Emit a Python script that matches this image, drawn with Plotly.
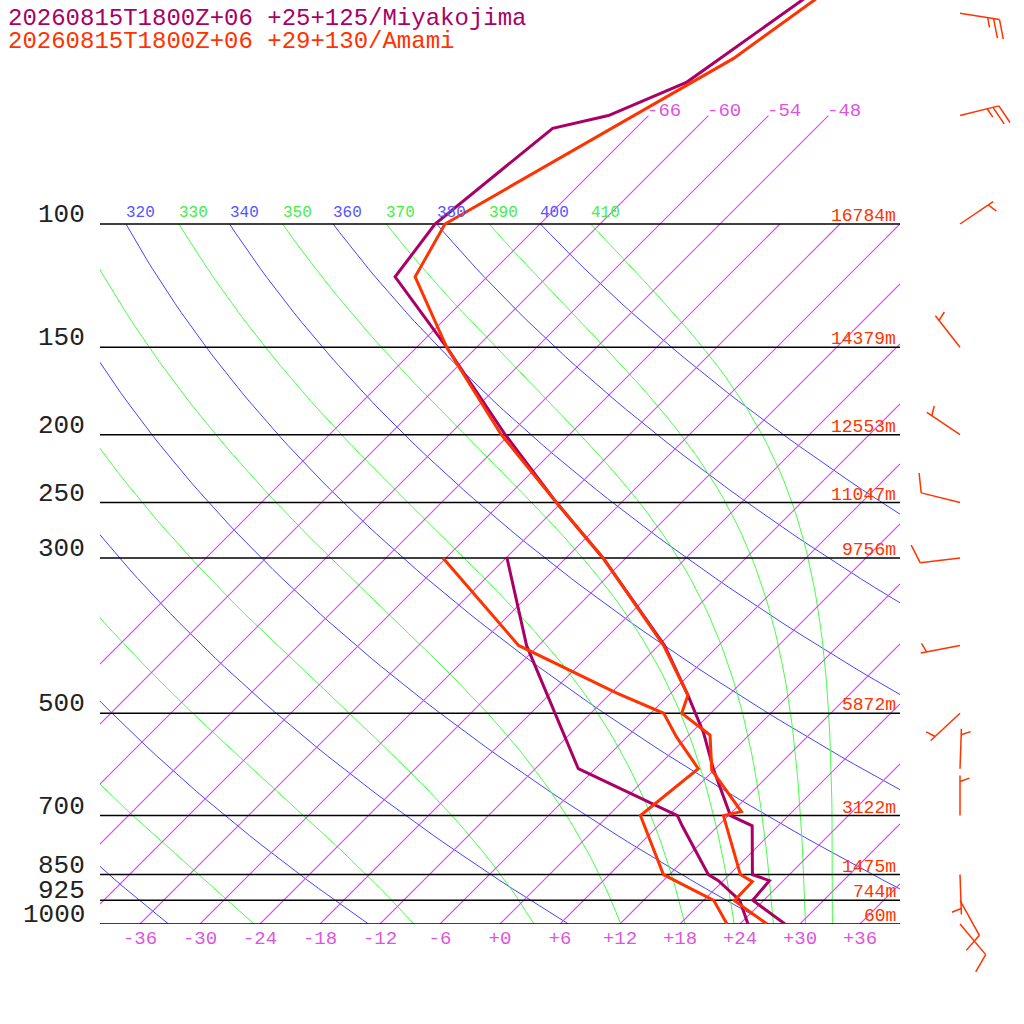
import numpy as np
import plotly.graph_objects as go

FONT = "Liberation Mono"
MI_COLOR = "#aa0066"
AM_COLOR = "#ff3300"
ISO_COLOR = "#dd44f4"

# --- Miyakojima sounding (hPa, degC) ---
mi_t_p = [1000, 925, 867, 850, 724, 700, 600, 534, 471, 400, 300, 250, 200, 150, 119, 100, 73, 70, 62.7, 30]
mi_t = [28.5, 22.9, 22.6, 20.3, 15.4, 12.2, 5.8, 1.3, -4.1, -11.4, -26.3, -36.5, -48.4, -63.0, -75.2, -76.5, -74.3, -70.0, -65.5, -56.4]
mi_td_p = [1000, 925, 867, 850, 724, 700, 600, 400, 300]
mi_td = [24.8, 21.6, 17.5, 15.9, 8.4, 6.9, -7.7, -25.2, -35.9]

# --- Amami sounding ---
am_t_p = [1000, 926, 870, 850, 700, 691, 603, 537, 500, 471, 400, 300, 250, 200, 150, 119, 100, 58, 30]
am_t = [26.7, 21.1, 21.0, 19.1, 11.5, 12.9, 5.8, 2.1, -2.9, -4.1, -11.5, -26.3, -36.5, -48.8, -63.0, -73.2, -75.5, -63.2, -55.5]
am_td_p = [1000, 925, 850, 700, 600, 540, 500, 468, 400, 300]
am_td = [22.7, 19.0, 11.4, 3.2, 4.3, -1.1, -4.7, -11.4, -26.0, -42.3]

# --- Amami winds (direction deg, speed kt) ---
wind_p = [50, 70, 100, 150, 200, 250, 300, 400, 500, 600, 700, 850, 925, 1000]
wind_dir = [99, 76, 56, 322, 304, 284, 263, 259, 227, 2, 0, 178, 151, 140]
wind_kt = [25, 25, 5, 5, 5, 10, 10, 5, 5, 5, 5, 5, 10, 10]

# --- standard levels and Amami heights ---
levels = [100, 150, 200, 250, 300, 500, 700, 850, 925, 1000]
heights = ["16784m", "14379m", "12553m", "11047m", "9756m", "5872m", "3122m", "1475m", "744m", "60m"]

isotherms = list(range(-66, 37, 6))
dry_thetas = list(range(240, 401, 20))
moist_thetaes = list(range(250, 411, 20))
tick_temps = list(range(-36, 37, 6))

SKEW = 70  # degC of skew per decade of pressure (45 degree isotherms)


def skew(t, p):
    return np.asarray(t, dtype=float) + SKEW * np.log10(1000 / np.asarray(p, dtype=float))


def theta_e_sat(tk, p):
    tc = tk - 273.15
    es = 6.112 * np.exp(17.67 * tc / (tc + 243.5))
    r = min(622 * es / max(p - es, 1e-3), 1000)
    return tk * (1000 / p) ** (0.2854 * (1 - 0.28e-3 * r)) * np.exp(
        (3.376 / tk - 0.00254) * r * (1 + 0.81e-3 * r))


def moist_temp(thetae, p):
    lo, hi = 150.0, 330.0
    for _ in range(50):
        mid = 0.5 * (lo + hi)
        if theta_e_sat(mid, p) > thetae:
            hi = mid
        else:
            lo = mid
    return 0.5 * (lo + hi) - 273.15


fig = go.Figure()
p_curve = np.logspace(3, 2, 80)

# dry adiabats
xs, ys = [], []
for th in dry_thetas:
    tc = th * (p_curve / 1000) ** 0.2857 - 273.15
    xs += [float(v) for v in skew(tc, p_curve)] + [None]
    ys += [float(v) for v in p_curve] + [None]
fig.add_trace(go.Scatter(x=xs, y=ys, mode="lines", line=dict(color="#4444ff", width=1),
                         hoverinfo="skip"))

# moist adiabats
xs, ys = [], []
for the in moist_thetaes:
    tc = [moist_temp(the, p) for p in p_curve]
    xs += [float(v) for v in skew(tc, p_curve)] + [None]
    ys += [float(v) for v in p_curve] + [None]
fig.add_trace(go.Scatter(x=xs, y=ys, mode="lines", line=dict(color="#44ff44", width=1),
                         hoverinfo="skip"))

# isotherms, each cut to the part inside the diagram box
xs, ys = [], []
for t in isotherms:
    ptop = 70 if t <= -48 else 100
    p_lo = max(ptop, 1000 / 10 ** ((40 - t) / SKEW))
    p_hi = min(1000, 1000 / 10 ** (max(-40 - t, 0) / SKEW))
    if p_lo >= p_hi:
        continue
    pp = np.logspace(np.log10(p_hi), np.log10(p_lo), 12)
    xs += [float(v) for v in skew(np.full(pp.size, t), pp)] + [None]
    ys += [float(v) for v in pp] + [None]
fig.add_trace(go.Scatter(x=xs, y=ys, mode="lines", line=dict(color=ISO_COLOR, width=1.1),
                         hoverinfo="skip"))

# pressure levels
xs, ys = [], []
for p in levels:
    xs += [-40, 40, None]
    ys += [p, p, None]
fig.add_trace(go.Scatter(x=xs, y=ys, mode="lines", line=dict(color="#000000", width=1.5),
                         hoverinfo="skip"))

# soundings
for p, t, col in [(mi_td_p, mi_td, MI_COLOR), (mi_t_p, mi_t, MI_COLOR),
                  (am_td_p, am_td, AM_COLOR), (am_t_p, am_t, AM_COLOR)]:
    fig.add_trace(go.Scatter(x=skew(t, p), y=p, mode="lines",
                             line=dict(color=col, width=3), hoverinfo="skip"))

# wind barbs (x2/y2, 10 px per x unit, 700 px per decade of pressure)
def barb(p, d, spd):
    th = np.radians(d)
    ux, uy = np.sin(th), -np.cos(th)
    px_, py_ = -uy, ux
    a = np.radians(20)
    fx, fy = px_ * np.cos(a) + ux * np.sin(a), py_ * np.cos(a) + uy * np.sin(a)
    L = 40
    segs = [((0, 0), (ux * L, uy * L))]
    n10, n5 = spd // 10, (spd % 10) >= 5
    pos = L
    for _ in range(n10):
        segs.append(((ux * pos, uy * pos), (ux * pos + fx * 20, uy * pos + fy * 20)))
        pos -= 6
    if n5:
        if n10 == 0:
            pos -= 6
        segs.append(((ux * pos, uy * pos), (ux * pos + fx * 10, uy * pos + fy * 10)))
    bx, by = [], []
    for (x0, y0), (x1, y1) in segs:
        bx += [46 + x0 / 10, 46 + x1 / 10, None]
        by += [p * 10 ** (y0 / 700), p * 10 ** (y1 / 700), None]
    return bx, by

bx, by = [], []
for p, d, s in zip(wind_p, wind_dir, wind_kt):
    a, b = barb(p, d, s)
    bx += a
    by += b
fig.add_trace(go.Scatter(x=bx, y=by, mode="lines", xaxis="x2", yaxis="y2",
                         line=dict(color=AM_COLOR, width=1.5), hoverinfo="skip"))

ann = []
# titles
ann.append(dict(text="20260815T1800Z+06 +25+125/Miyakojima", xref="paper", yref="paper",
                x=6 / 1024, y=1 - 18 / 1024, xanchor="left", yanchor="middle",
                showarrow=False, font=dict(family=FONT, size=24, color=MI_COLOR)))
ann.append(dict(text="20260815T1800Z+06 +29+130/Amami", xref="paper", yref="paper",
                x=6 / 1024, y=1 - 41 / 1024, xanchor="left", yanchor="middle",
                showarrow=False, font=dict(family=FONT, size=24, color=AM_COLOR)))
# pressure labels and heights
for p, h in zip(levels, heights):
    ann.append(dict(text=str(p), xref="paper", yref="y", x=87 / 1024, y=np.log10(p),
                    xanchor="right", yanchor="bottom", yshift=-8, showarrow=False,
                    font=dict(family=FONT, size=26, color="#222222")))
    ann.append(dict(text=h, xref="x", yref="y", x=39.8, y=np.log10(p),
                    xanchor="right", yanchor="bottom", yshift=-4, showarrow=False,
                    font=dict(family=FONT, size=18, color=AM_COLOR)))
# adiabat labels at 100 hPa
for th in dry_thetas:
    x0 = float(skew(th * 0.1 ** 0.2857 - 273.15, 100))
    if -40 <= x0 <= 38:
        ann.append(dict(text=str(th), xref="x", yref="y", x=x0 - 0.2, y=2,
                        xanchor="left", yanchor="bottom", showarrow=False,
                        font=dict(family=FONT, size=16, color="#5555ff")))
for the in moist_thetaes:
    x0 = float(skew(moist_temp(the, 100), 100))
    if -40 <= x0 <= 38:
        ann.append(dict(text=str(the), xref="x", yref="y", x=x0 - 0.2, y=2,
                        xanchor="left", yanchor="bottom", showarrow=False,
                        font=dict(family=FONT, size=16, color="#44ee44")))
# isotherm labels at 70 hPa
for t in isotherms:
    if t <= -48:
        ann.append(dict(text=str(t), xref="x", yref="y", x=float(skew(t, 70)) - 0.3,
                        y=np.log10(70), xanchor="left", yanchor="bottom", yshift=-8,
                        showarrow=False, font=dict(family=FONT, size=19, color="#dd55dd")))

tick_text = [("+" if t >= 0 else "") + str(t) for t in tick_temps]

fig.update_layout(
    width=1024, height=1024, margin=dict(l=0, r=0, t=0, b=0),
    paper_bgcolor="white", plot_bgcolor="white", showlegend=False,
    annotations=ann,
    xaxis=dict(domain=[100 / 1024, 900 / 1024], range=[-40, 40], showgrid=False,
               zeroline=False, showline=False, tickvals=tick_temps, ticktext=tick_text,
               tickfont=dict(family=FONT, size=19, color="#dd55dd"), anchor="y"),
    yaxis=dict(type="log", domain=[100 / 1024, 1], range=[3, 3 - 924 / 700],
               showgrid=False, zeroline=False, showticklabels=False, anchor="x"),
    xaxis2=dict(domain=[900 / 1024, 1], range=[40, 52.4], visible=False, anchor="y2"),
    yaxis2=dict(type="log", domain=[0, 1], range=[3 + 100 / 700, 3 - 924 / 700],
                visible=False, anchor="x2"),
)

fig.write_html("out.html", config={"displayModeBar": False},
               post_script="document.body.style.margin='0';")
